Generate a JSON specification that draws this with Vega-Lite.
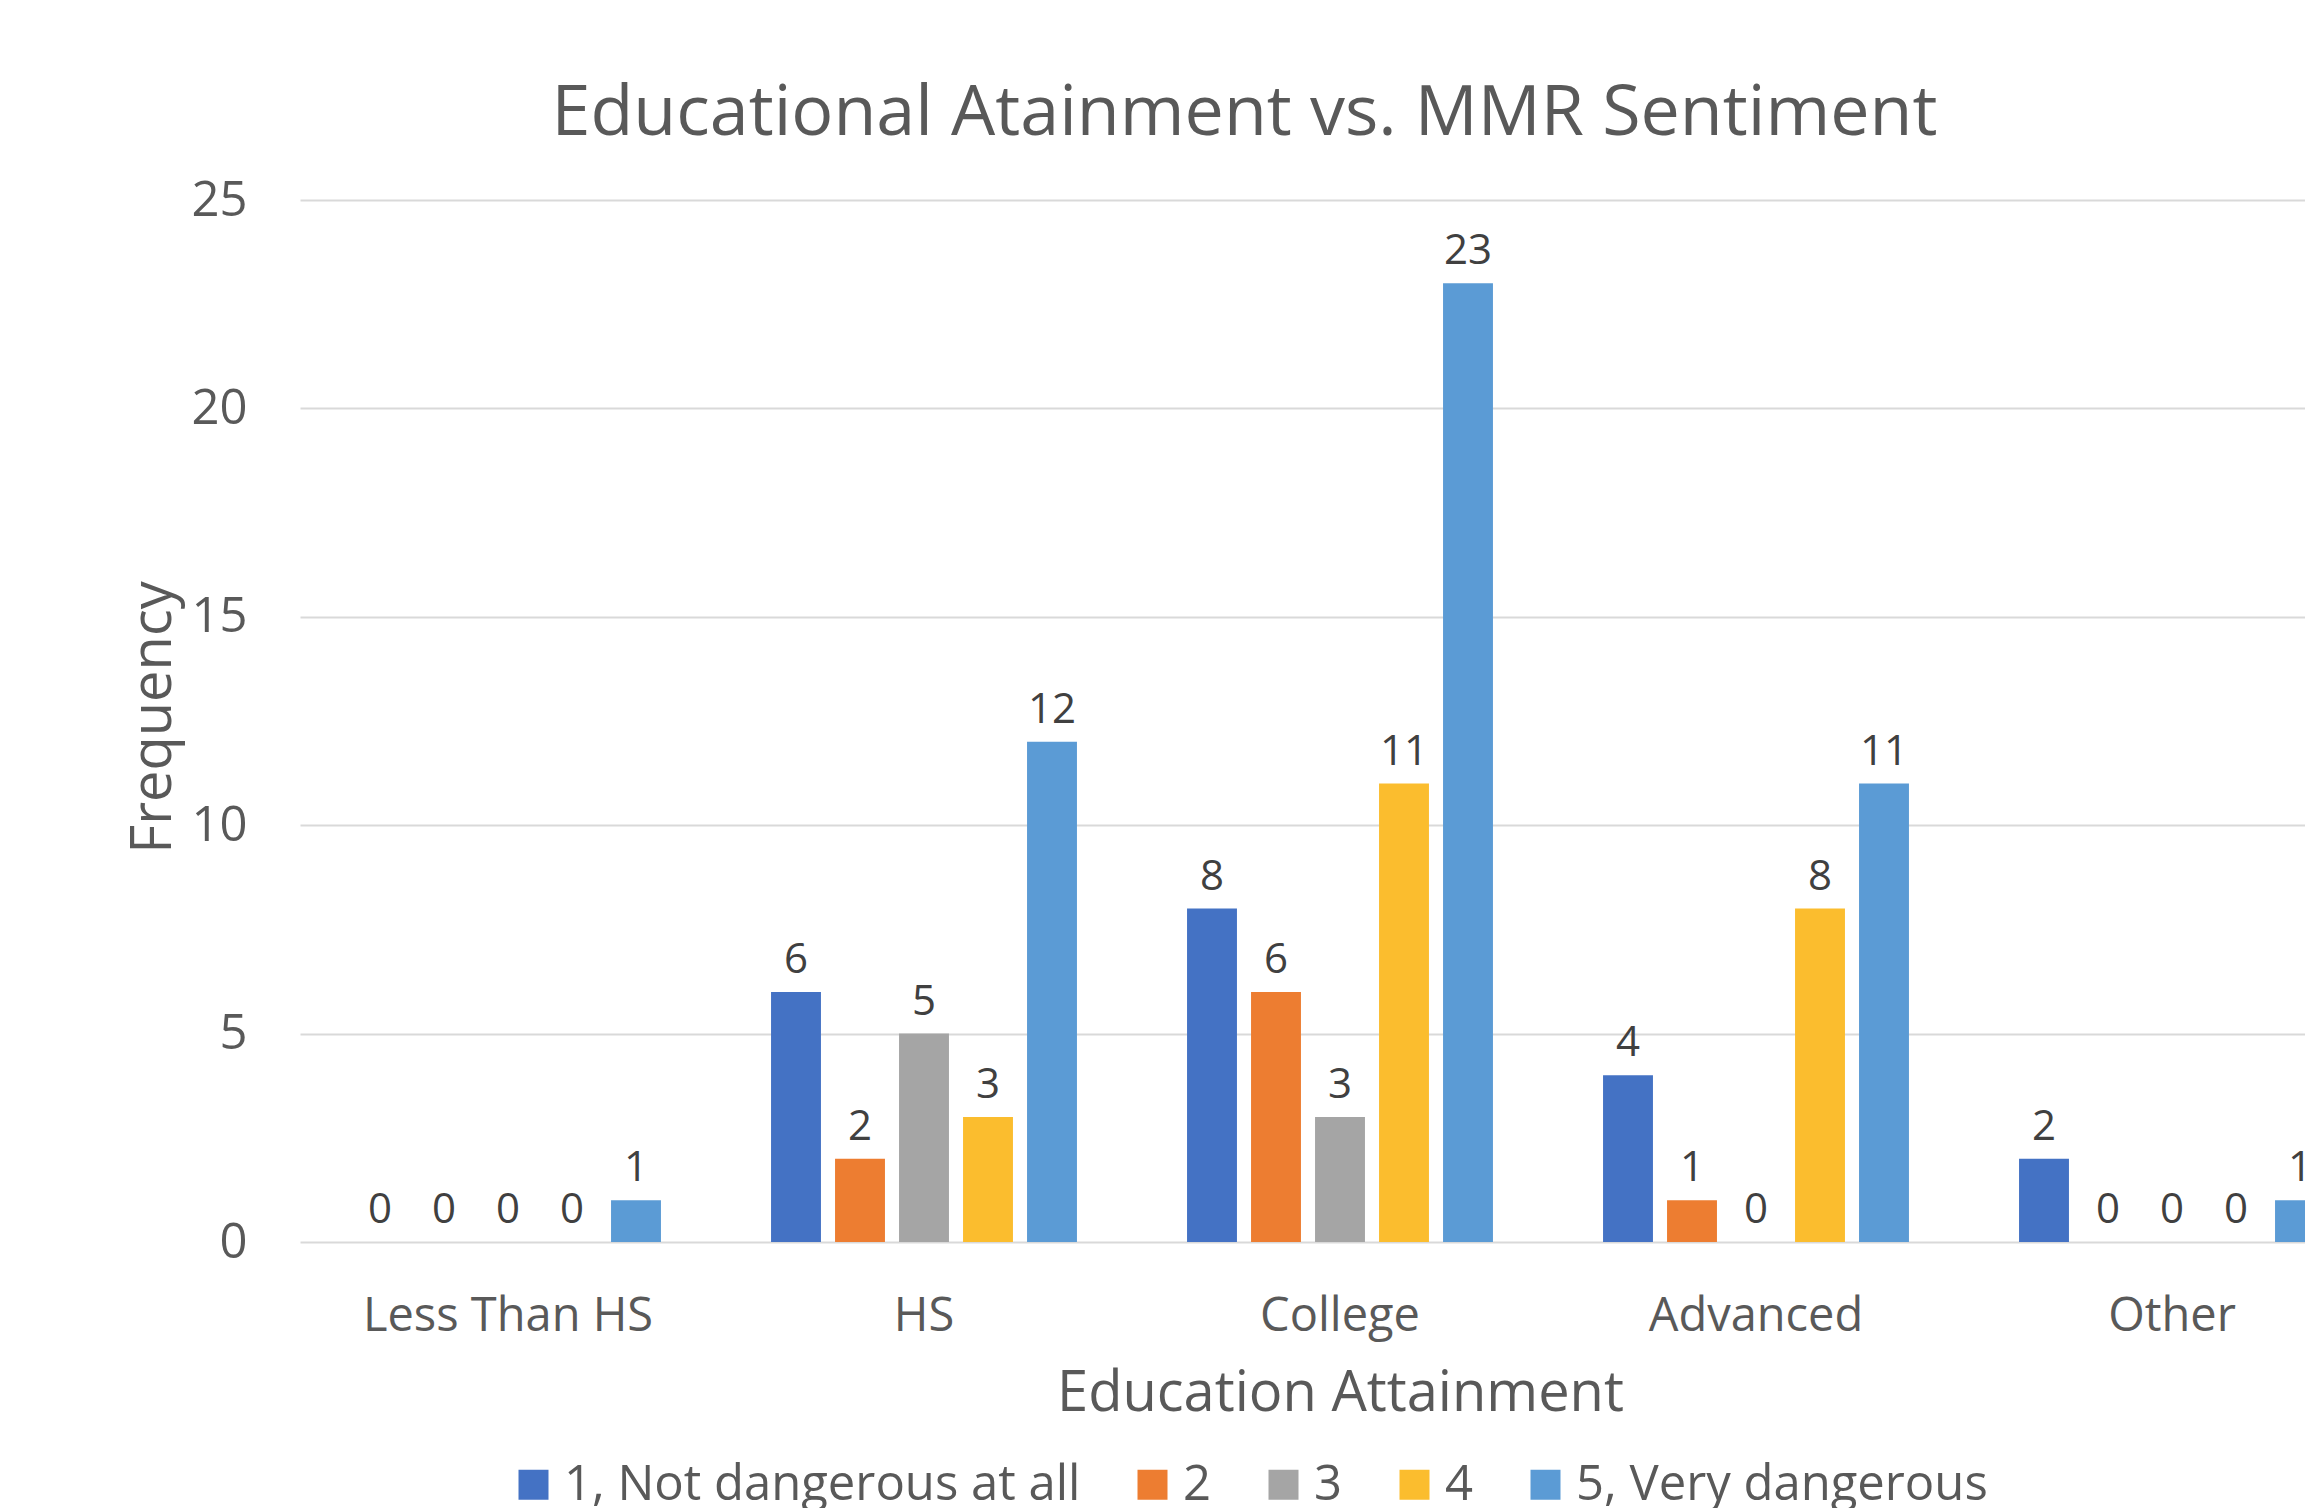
{
  "$schema": "https://vega.github.io/schema/vega-lite/v6.json",
  "autosize": {"type": "none"},
  "padding": {"left": 300, "top": 200, "right": 0, "bottom": 266},
  "width": 2005,
  "height": 1042,
  "background": "white",
  "title": {
    "text": "Educational Atainment vs. MMR Sentiment",
    "font": "Open Sans",
    "fontSize": 70,
    "fontWeight": "normal",
    "color": "#595959",
    "anchor": "middle",
    "frame": "group",
    "dx": -58,
    "offset": 26
  },
  "data": {
    "values": [
      {"edu": "Less Than HS", "rating": "1, Not dangerous at all", "freq": 0},
      {"edu": "Less Than HS", "rating": "2", "freq": 0},
      {"edu": "Less Than HS", "rating": "3", "freq": 0},
      {"edu": "Less Than HS", "rating": "4", "freq": 0},
      {"edu": "Less Than HS", "rating": "5, Very dangerous", "freq": 1},
      {"edu": "HS", "rating": "1, Not dangerous at all", "freq": 6},
      {"edu": "HS", "rating": "2", "freq": 2},
      {"edu": "HS", "rating": "3", "freq": 5},
      {"edu": "HS", "rating": "4", "freq": 3},
      {"edu": "HS", "rating": "5, Very dangerous", "freq": 12},
      {"edu": "College", "rating": "1, Not dangerous at all", "freq": 8},
      {"edu": "College", "rating": "2", "freq": 6},
      {"edu": "College", "rating": "3", "freq": 3},
      {"edu": "College", "rating": "4", "freq": 11},
      {"edu": "College", "rating": "5, Very dangerous", "freq": 23},
      {"edu": "Advanced", "rating": "1, Not dangerous at all", "freq": 4},
      {"edu": "Advanced", "rating": "2", "freq": 1},
      {"edu": "Advanced", "rating": "3", "freq": 0},
      {"edu": "Advanced", "rating": "4", "freq": 8},
      {"edu": "Advanced", "rating": "5, Very dangerous", "freq": 11},
      {"edu": "Other", "rating": "1, Not dangerous at all", "freq": 2},
      {"edu": "Other", "rating": "2", "freq": 0},
      {"edu": "Other", "rating": "3", "freq": 0},
      {"edu": "Other", "rating": "4", "freq": 0},
      {"edu": "Other", "rating": "5, Very dangerous", "freq": 1}
    ]
  },
  "encoding": {
    "x": {
      "field": "edu",
      "type": "nominal",
      "sort": ["Less Than HS", "HS", "College", "Advanced", "Other"],
      "scale": {"range": [0, 2080], "paddingInner": 0, "paddingOuter": 0},
      "axis": {
        "title": "Education Attainment",
        "titleFont": "Open Sans",
        "titleFontSize": 56,
        "titleFontWeight": "normal",
        "titleColor": "#595959",
        "titleBaseline": "alphabetic",
        "titleX": 1040,
        "titleY": 168,
        "labelFont": "Open Sans",
        "labelFontSize": 47,
        "labelColor": "#595959",
        "labelAngle": 0,
        "labelBaseline": "alphabetic",
        "labelPadding": 88,
        "labelLimit": 1000,
        "ticks": false,
        "tickSize": 0,
        "domain": false,
        "grid": false
      }
    },
    "xOffset": {
      "field": "rating",
      "type": "nominal",
      "scale": {"paddingInner": 0.22, "paddingOuter": 0.86}
    },
    "y": {
      "field": "freq",
      "type": "quantitative",
      "scale": {"domain": [0, 25]},
      "axis": {
        "title": "Frequency",
        "titleFont": "Open Sans",
        "titleFontSize": 56,
        "titleFontWeight": "normal",
        "titleColor": "#595959",
        "titleBaseline": "alphabetic",
        "titleAngle": -90,
        "titleX": -130,
        "titleY": 517,
        "values": [0, 5, 10, 15, 20, 25],
        "labelFont": "Open Sans",
        "labelFontSize": 49,
        "labelColor": "#595959",
        "labelPadding": 53,
        "ticks": false,
        "tickSize": 0,
        "domain": false,
        "grid": true,
        "gridColor": "#D9D9D9",
        "gridWidth": 2
      }
    }
  },
  "layer": [
    {
      "mark": {"type": "bar"},
      "encoding": {
        "color": {
          "field": "rating",
          "type": "nominal",
          "scale": {
            "domain": ["1, Not dangerous at all", "2", "3", "4", "5, Very dangerous"],
            "range": ["#4472C4", "#ED7D31", "#A5A5A5", "#FBBD2E", "#5B9BD5"]
          },
          "legend": {
            "title": null,
            "orient": "none",
            "direction": "horizontal",
            "legendX": 209,
            "legendY": 1260,
            "padding": 0,
            "symbolType": "square",
            "symbolSize": 900,
            "symbolStrokeWidth": 0,
            "labelFont": "Open Sans",
            "labelFontSize": 49,
            "labelColor": "#595959",
            "labelOffset": 6,
            "columnPadding": 47,
            "labelLimit": 1000
          }
        }
      }
    },
    {
      "mark": {
        "type": "text",
        "baseline": "alphabetic",
        "dy": -19,
        "font": "Open Sans",
        "fontSize": 42,
        "color": "#404040"
      },
      "encoding": {
        "text": {"field": "freq", "type": "quantitative"}
      }
    }
  ],
  "config": {
    "view": {"stroke": null}
  }
}
